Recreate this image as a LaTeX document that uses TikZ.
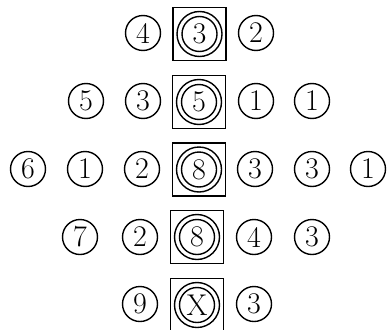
\documentclass[tikz,border=0pt]{standalone}
\begin{document}
\begin{tikzpicture}[x=1pt,y=1pt,
  num/.style={circle,draw,line width=1.4pt,minimum size=35pt,inner sep=0pt,font=\fontsize{30}{30}\selectfont},
  ctrbox/.style={rectangle,draw,line width=1.5pt,minimum size=53pt,inner sep=0pt,font=\fontsize{30}{30}\selectfont},
  ring/.style={line width=1.4pt}]
\useasboundingbox (0,0) rectangle (387,-329);
\clip (0,0) rectangle (387,-329);
% row 1
\node[num] (r1a) at (143,-33) {4};
\node[ctrbox] (r1c) at (199.5,-34) {3};
\node[num] (r1b) at (256,-33) {2};
% row 2
\node[num] (r2a) at (86,-101) {5};
\node[num] (r2b) at (143,-101) {3};
\node[ctrbox] (r2c) at (199,-102) {5};
\node[num] (r2d) at (256,-101) {1};
\node[num] (r2e) at (312,-101) {1};
% row 3
\node[num] (r3a) at (28,-169) {6};
\node[num] (r3b) at (85,-169) {1};
\node[num] (r3d) at (142,-169) {2};
\node[ctrbox] (r3c) at (199,-169.5) {8};
\node[num] (r3e) at (255,-169) {3};
\node[num] (r3f) at (312,-169) {3};
\node[num] (r3g) at (368,-169) {1};
% row 4
\node[num] (r4a) at (80,-237) {7};
\node[num] (r4b) at (140,-237) {2};
\node[ctrbox] (r4c) at (197,-237) {8};
\node[num] (r4d) at (254,-237) {4};
\node[num] (r4e) at (312,-237) {3};
% row 5
\node[num] (r5a) at (140,-304) {9};
\node[ctrbox] (r5c) at (197,-305) {X};
\node[num] (r5b) at (254,-304) {3};
% rings
\foreach \n in {r1c,r2c,r3c,r4c,r5c}{
  \draw[ring] (\n) circle[radius=22.5pt];
  \draw[ring] (\n) circle[radius=17.5pt];
}
\end{tikzpicture}
\end{document}
